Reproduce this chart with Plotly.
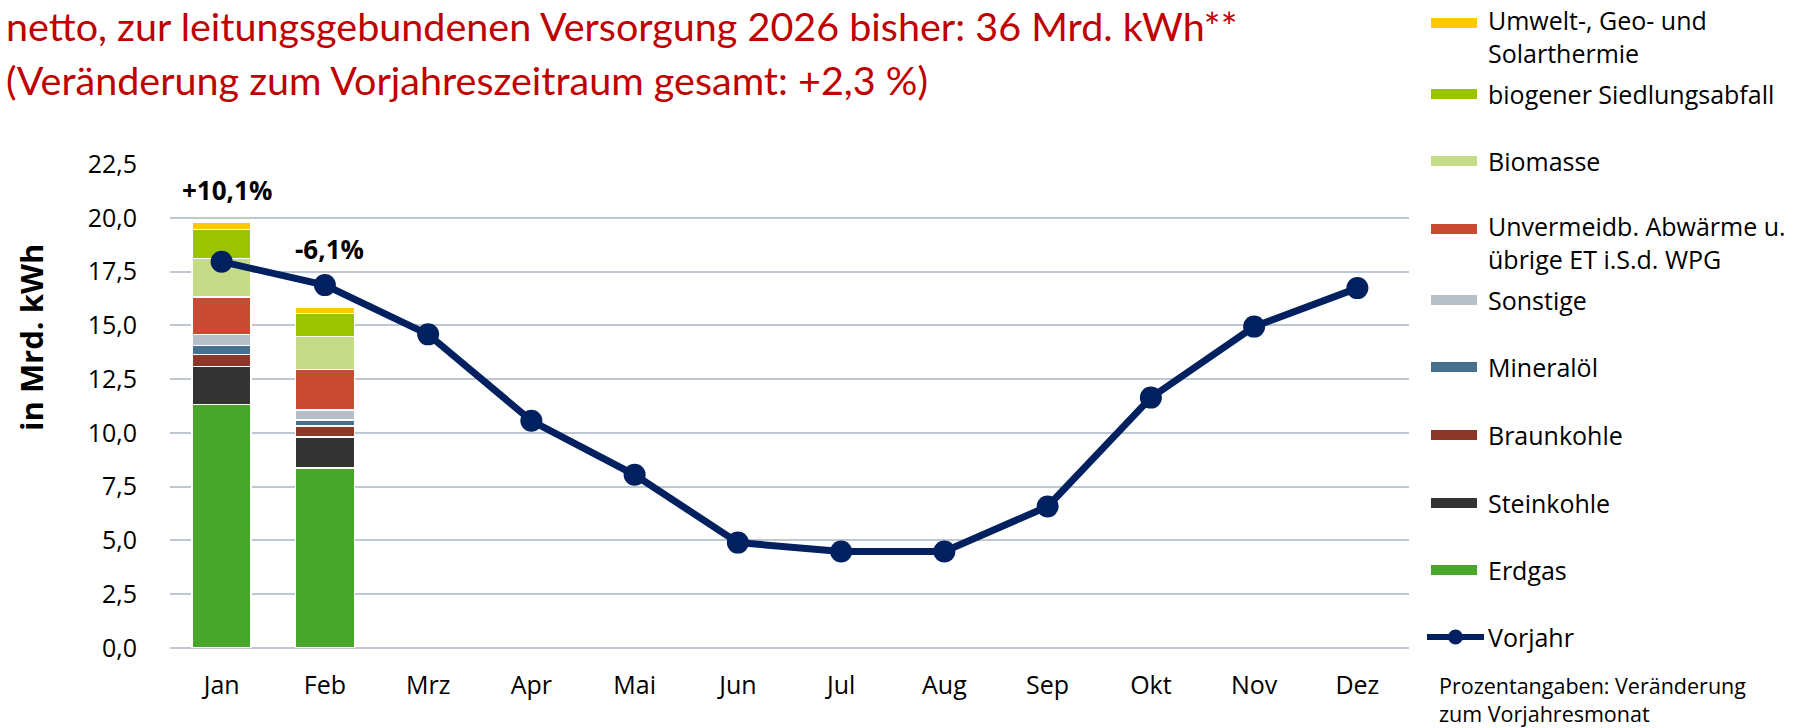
import plotly.graph_objects as go

# ---- data -------------------------------------------------------------
months = ["Jan", "Feb", "Mrz", "Apr", "Mai", "Jun", "Jul", "Aug", "Sep", "Okt", "Nov", "Dez"]
bar_months = ["Jan", "Feb"]

erdgas = [11.33, 8.36]
steinkohle = [1.75, 1.44]
braunkohle = [0.57, 0.51]
mineraloel = [0.41, 0.28]
sonstige = [0.52, 0.48]
abwaerme = [1.74, 1.87]
biomasse = [1.78, 1.53]
siedlungsabfall = [1.36, 1.09]
umwelt = [0.31, 0.28]

vorjahr = [17.96, 16.87, 14.58, 10.56, 8.05, 4.90, 4.49, 4.49, 6.58, 11.64, 14.94, 16.73]

change_labels = ["+10,1%", "-6,1%"]

series_names = [
    "Erdgas", "Steinkohle", "Braunkohle", "Mineralöl", "Sonstige",
    "Unvermeidb. Abwärme u.<br>übrige ET i.S.d. WPG", "Biomasse",
    "biogener Siedlungsabfall", "Umwelt-, Geo- und<br>Solarthermie",
]
series_values = [erdgas, steinkohle, braunkohle, mineraloel, sonstige,
                 abwaerme, biomasse, siedlungsabfall, umwelt]
series_colors = ["#48A62A", "#333333", "#8C3728", "#47708F", "#B5BFC8",
                 "#C94B33", "#C5DB87", "#9CC300", "#FFC800"]
line_color = "#002060"

# ---- geometry of the page (pixels) ------------------------------------
W, H = 1795, 728
ML, MR, MT, MB = 170, 386, 164, 80
PW, PH = W - ML - MR, H - MT - MB


def px_x(px):
    return (px - ML) / PW


def px_y(py):
    return (H - MB - py) / PH


FONT = "Open Sans"

fig = go.Figure()

for name, vals, col in zip(series_names, series_values, series_colors):
    fig.add_trace(go.Bar(
        x=bar_months, y=vals, name=name.replace("<br>", " "),
        marker=dict(color=col, line=dict(color="white", width=1.5)),
        width=0.57, showlegend=False,
    ))

fig.add_trace(go.Scatter(
    x=months, y=vorjahr, name="Vorjahr", mode="lines+markers",
    line=dict(color=line_color, width=7),
    marker=dict(color=line_color, size=22),
    showlegend=False,
))

# percentage change labels above the bars
totals = [sum(v[i] for v in series_values) for i in range(len(bar_months))]
label_lift = [33, 58]
for m, t, lab, lift in zip(bar_months, totals, change_labels, label_lift):
    fig.add_annotation(x=m, y=t, text=f"<b>{lab}</b>", showarrow=False,
                       xshift=5, yshift=lift, yanchor="middle",
                       font=dict(family=FONT, size=26, color="black"))

# ---- legend drawn at the right ---------------------------------------
LEG_SIZE = 25
legend_rows = [
    # (label, colour, swatch y, text y)
    ("Umwelt-, Geo- und<br>Solarthermie", series_colors[8], 23, 37),
    ("biogener Siedlungsabfall", series_colors[7], 94, 94),
    ("Biomasse", series_colors[6], 161, 161),
    ("Unvermeidb. Abwärme u.<br>übrige ET i.S.d. WPG", series_colors[5], 229, 243),
    ("Sonstige", series_colors[4], 300, 300),
    ("Mineralöl", series_colors[3], 367, 367),
    ("Braunkohle", series_colors[2], 435, 435),
    ("Steinkohle", series_colors[1], 503, 503),
    ("Erdgas", series_colors[0], 570, 570),
]
for label, col, sy, ty in legend_rows:
    fig.add_shape(type="rect", xref="paper", yref="paper",
                  x0=px_x(1431), x1=px_x(1477), y0=px_y(sy + 5), y1=px_y(sy - 5),
                  fillcolor=col, line=dict(width=0))
    fig.add_annotation(xref="paper", yref="paper", x=px_x(1486), y=px_y(ty),
                       xanchor="left", yanchor="middle", align="left",
                       text=label, showarrow=False,
                       font=dict(family=FONT, size=LEG_SIZE, color="black"))

# Vorjahr legend entry
fig.add_shape(type="line", xref="paper", yref="paper",
              x0=px_x(1427), x1=px_x(1484), y0=px_y(637), y1=px_y(637),
              line=dict(color=line_color, width=6))
fig.add_shape(type="circle", xref="paper", yref="paper",
              x0=px_x(1448), x1=px_x(1463), y0=px_y(644.5), y1=px_y(629.5),
              fillcolor=line_color, line=dict(width=0))
fig.add_annotation(xref="paper", yref="paper", x=px_x(1486), y=px_y(637),
                   xanchor="left", yanchor="middle", text="Vorjahr", showarrow=False,
                   font=dict(family=FONT, size=LEG_SIZE, color="black"))

# footnote on the percentage labels
fig.add_annotation(xref="paper", yref="paper", x=px_x(1438), y=px_y(699),
                   xanchor="left", yanchor="middle", align="left",
                   text="Prozentangaben: Veränderung<br>zum Vorjahresmonat",
                   showarrow=False, borderpad=0,
                   font=dict(family=FONT, size=21.5, color="black"))

# ---- title lines -----------------------------------------------------
title_lines = ["netto, zur leitungsgebundenen Versorgung 2026 bisher: 36 Mrd. kWh**",
               "(Veränderung zum Vorjahreszeitraum gesamt: +2,3 %)"]
for line, cy in zip(title_lines, [25, 80]):
    fig.add_annotation(xref="paper", yref="paper", x=px_x(4), y=px_y(cy),
                       xanchor="left", yanchor="middle", text=line, showarrow=False,
                       font=dict(family="Lato", size=39.5, color="#C00000"))

# y axis title
fig.add_annotation(xref="paper", yref="paper", x=px_x(31), y=px_y(338),
                   xanchor="center", yanchor="middle", textangle=-90,
                   text="<b>in Mrd. kWh</b>", showarrow=False,
                   font=dict(family=FONT, size=31, color="black"))

fig.update_layout(
    width=W, height=H,
    margin=dict(l=ML, r=MR, t=MT, b=MB),
    barmode="stack",
    plot_bgcolor="white", paper_bgcolor="white",
    separators=",.",
    showlegend=False,
    xaxis=dict(categoryorder="array", categoryarray=months, range=[-0.5, 11.5],
               showgrid=False, showline=False, zeroline=False, ticks="",
               tickfont=dict(family=FONT, size=25, color="black"),
               ticklabelstandoff=20),
    yaxis=dict(range=[0, 22.5], dtick=2.5, tick0=0, tickformat=".1f",
               showgrid=True, gridcolor="#BFC8D2", gridwidth=2,
               zeroline=True, zerolinecolor="#BFC8D2", zerolinewidth=2,
               showline=False, ticks="",
               tickfont=dict(family=FONT, size=25, color="black"),
               ticklabelstandoff=32),
)

fig.write_html("out.html")
